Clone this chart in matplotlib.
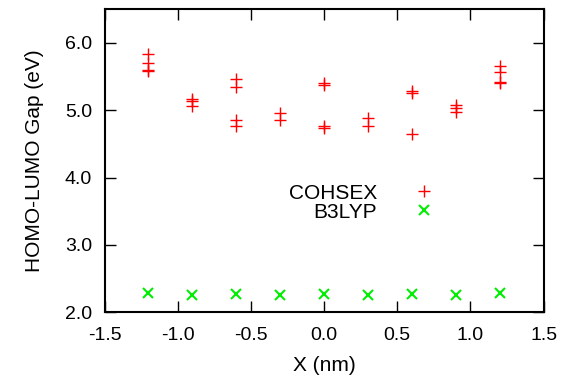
import matplotlib
matplotlib.use("Agg")
import matplotlib.pyplot as plt

plt.rcParams['font.family'] = ['Liberation Sans', 'DejaVu Sans']

# COHSEX gaps: several values per position
cohsex_x = [-1.2, -1.2, -1.2, -1.2,
            -0.9, -0.9, -0.9,
            -0.6, -0.6, -0.6, -0.6,
            -0.3, -0.3,
            0.0, 0.0, 0.0, 0.0,
            0.3, 0.3,
            0.6, 0.6, 0.6,
            0.9, 0.9, 0.9,
            1.2, 1.2, 1.2, 1.2]
cohsex_gap = [5.84, 5.70, 5.60, 5.58,
              5.16, 5.13, 5.06,
              5.46, 5.35, 4.86, 4.76,
              4.96, 4.86,
              5.40, 5.38, 4.77, 4.73,
              4.88, 4.77,
              5.28, 5.25, 4.65,
              5.08, 5.04, 4.98,
              5.66, 5.57, 5.42, 5.40]

b3lyp_x = [-1.2, -0.9, -0.6, -0.3, 0.0, 0.3, 0.6, 0.9, 1.2]
b3lyp_gap = [2.28, 2.26, 2.27, 2.26, 2.27, 2.26, 2.27, 2.26, 2.28]

xticks = [-1.5, -1.0, -0.5, 0.0, 0.5, 1.0, 1.5]
yticks = [2.0, 3.0, 4.0, 5.0, 6.0]

fig = plt.figure(figsize=(5.68, 3.84), dpi=100)
ax = fig.add_axes([0.184, 0.187, 0.773, 0.789])

ax.plot(cohsex_x, cohsex_gap, linestyle='none', marker='+', color='red',
        markersize=9, markeredgewidth=1.0, label='COHSEX')
ax.plot(b3lyp_x, b3lyp_gap, linestyle='none', marker='x', color='#00ee00',
        markersize=7, markeredgewidth=1.5, label='B3LYP')

ax.set_xlim(-1.5, 1.5)
ax.set_ylim(2.0, 6.5)
ax.set_xticks(xticks)
ax.set_xticklabels(['%.1f' % v for v in xticks])
ax.set_yticks(yticks)
ax.set_yticklabels(['%.1f' % v for v in yticks])
ax.tick_params(direction='in', length=8, width=1, top=True, right=True,
               labelsize=14)
ax.tick_params(axis='x', pad=11)
ax.tick_params(axis='y', pad=9)
for s in ax.spines.values():
    s.set_linewidth(1.5)

ax.set_xlabel('X (nm)', fontsize=15, labelpad=8)
ax.set_ylabel('HOMO-LUMO Gap (eV)', fontsize=15, labelpad=15)

ax.legend(loc='center', bbox_to_anchor=(0.597, 0.362), frameon=False,
          markerfirst=False, fontsize=15, handlelength=2.0,
          handletextpad=1.25, labelspacing=0.0)

fig.savefig('out.png', dpi=100)
